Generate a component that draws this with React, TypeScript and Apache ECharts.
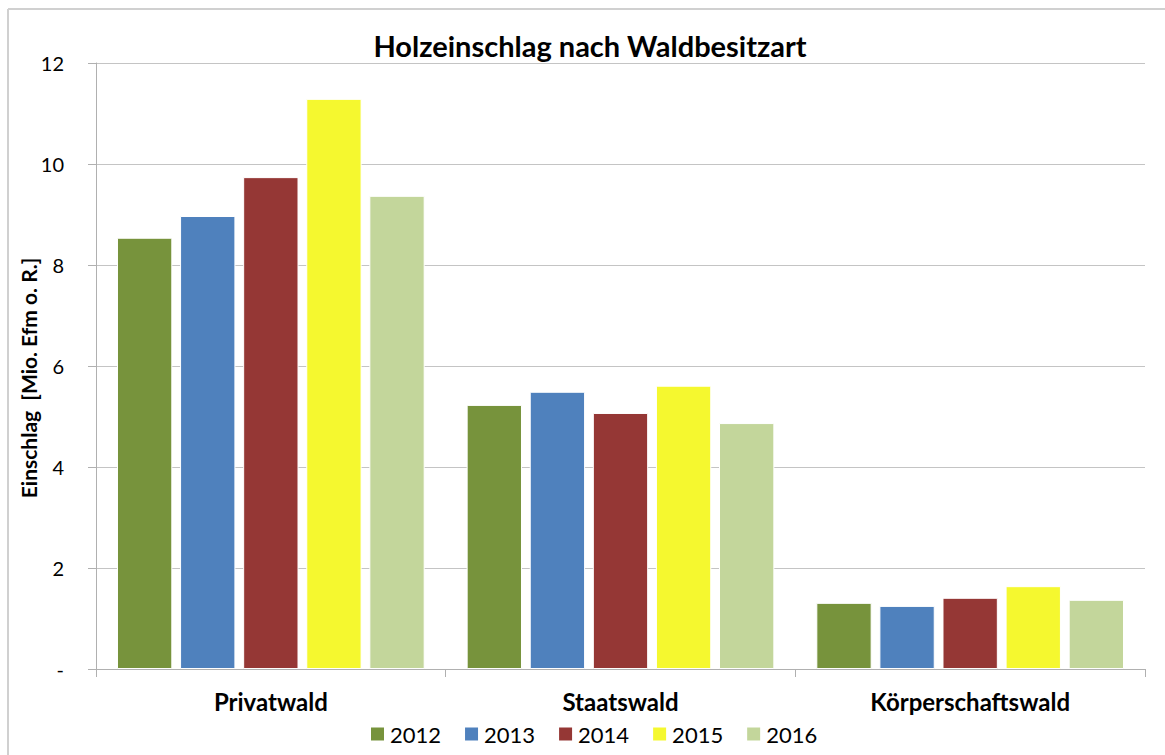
import React, { useEffect, useRef } from "react";
import * as echarts from "echarts";

const categories = ["Privatwald", "Staatswald", "Körperschaftswald"];
const years = ["2012", "2013", "2014", "2015", "2016"];
const v2012 = [8.54, 5.23, 1.31];
const v2013 = [8.97, 5.49, 1.25];
const v2014 = [9.74, 5.07, 1.41];
const v2015 = [11.29, 5.61, 1.64];
const v2016 = [9.37, 4.87, 1.37];
const seriesValues = [v2012, v2013, v2014, v2015, v2016];
const colors = ["#77933C", "#4F81BD", "#953735", "#F5F82F", "#C3D69B"];
const yAxisTitle = "Einschlag  [Mio. Efm o. R.]";

const FONT = "Lato, 'Noto Sans', sans-serif";

export default function App() {
  const ref = useRef<HTMLDivElement>(null);
  useEffect(() => {
    document.body.style.margin = "0";
    if (!ref.current) return;
    const chart = echarts.init(ref.current, undefined, { renderer: "svg" });
    chart.setOption({
      animation: false,
      backgroundColor: "#ffffff",
      textStyle: { fontFamily: FONT },
      title: {
        text: "Holzeinschlag nach Waldbesitzart",
        left: 585,
        top: 26,
        textAlign: "center",
        textStyle: { fontFamily: FONT, fontSize: 29, fontWeight: "bold", color: "#000" },
      },
      graphic: [
        {
          type: "line",
          shape: { x1: 8, y1: 9, x2: 1165, y2: 9 },
          style: { stroke: "#d0d0d0", lineWidth: 2 },
        },
        {
          type: "line",
          shape: { x1: 8, y1: 9, x2: 8, y2: 755 },
          style: { stroke: "#d0d0d0", lineWidth: 2 },
        },
        {
          type: "text",
          x: 28,
          y: 378,
          rotation: Math.PI / 2,
          style: {
            text: yAxisTitle,
            fontFamily: FONT,
            fontSize: 21,
            fontWeight: "bold",
            fill: "#000",
            textAlign: "center",
            textVerticalAlign: "middle",
          },
        },
      ],
      legend: {
        data: years,
        top: 718,
        left: 364,
        itemWidth: 15,
        itemHeight: 15,
        itemGap: 22,
        icon: "rect",
        textStyle: { fontFamily: FONT, fontSize: 22, color: "#000" },
      },
      grid: { left: 96, right: 20, top: 63, bottom: 86, containLabel: false },
      xAxis: {
        type: "category",
        data: categories,
        axisLine: { lineStyle: { color: "#b0b0b0", width: 1 } },
        axisTick: { show: true, length: 8, lineStyle: { color: "#b0b0b0" } },
        axisLabel: { fontFamily: FONT, fontSize: 24, fontWeight: "bold", color: "#000", margin: 20 },
      },
      yAxis: {
        type: "value",
        min: 0,
        max: 12,
        interval: 2,
        axisLine: { show: true, lineStyle: { color: "#b0b0b0", width: 1 } },
        axisTick: { show: true, length: 8, lineStyle: { color: "#b0b0b0" } },
        splitLine: { lineStyle: { color: "#c4c4c4", width: 1 } },
        axisLabel: {
          fontFamily: FONT,
          fontSize: 20,
          color: "#000",
          margin: 32,
          formatter: (v: number) => (v === 0 ? "-" : String(v)),
        },
      },
      series: years.map((y, i) => ({
        name: y,
        type: "bar",
        data: seriesValues[i],
        barGap: "14%",
        barCategoryGap: "12%",
        itemStyle: { color: colors[i], borderColor: "#ffffff", borderWidth: 1 },
      })),
    });
    return () => chart.dispose();
  }, []);
  return <div ref={ref} style={{ width: 1165, height: 755 }} />;
}
